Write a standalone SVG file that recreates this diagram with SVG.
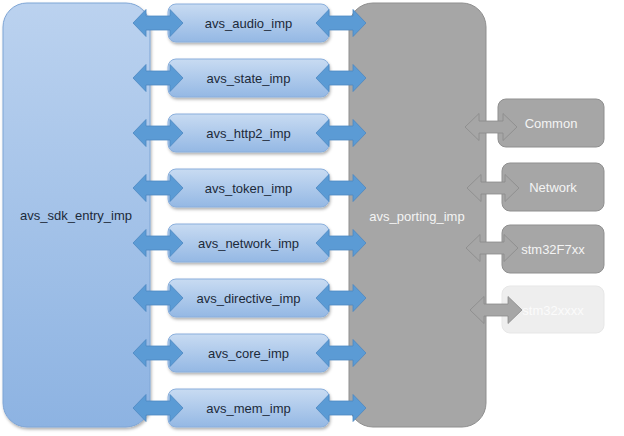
<svg xmlns="http://www.w3.org/2000/svg" xmlns:xlink="http://www.w3.org/1999/xlink" width="624" height="436" viewBox="0 0 624 436">
<defs>
<linearGradient id="gBig" x1="0" y1="0" x2="0" y2="1">
<stop offset="0" stop-color="#bbd2ef"/>
<stop offset="1" stop-color="#8db3e2"/>
</linearGradient>
<linearGradient id="gBox" x1="0" y1="0" x2="0" y2="1">
<stop offset="0" stop-color="#c8dbf2"/>
<stop offset="1" stop-color="#94b8e4"/>
</linearGradient>
<filter id="sh" x="-10%" y="-20%" width="120%" height="150%">
<feDropShadow dx="1" dy="2" stdDeviation="1.5" flood-color="#000" flood-opacity="0.3"/>
</filter>
<path id="blueArrow" d="M0 0 L13 -13.5 L13 -7 L37 -7 L37 -13.5 L50 0 L37 13.5 L37 7 L13 7 L13 13.5 Z"/>
<path id="grayArrow" d="M0 0 L14 -13.5 L14 -6 L38 -6 L38 -13.5 L52 0 L38 13.5 L38 6 L14 6 L14 13.5 Z"/>
</defs>
<style>
.t{font-family:"Liberation Sans",Arial,sans-serif;font-size:13px;text-anchor:middle}
.dark{fill:#1c2a3a}
.white{fill:#f4f4f4}
.faint{fill:#fbfbfb}
.mod{fill:url(#gBox);stroke:#8aafdc;stroke-width:1;filter:url(#sh)}
.port{fill:#a6a6a6;stroke:#8f8f8f;stroke-width:1}
.ba{fill:#5b9bd5;stroke:#4c88c2;stroke-width:0.8}
.ga{fill:#a6a6a6;stroke:#8a8a8a;stroke-width:0.8}
</style>
<rect width="624" height="436" fill="#ffffff"/>
<g id="avs_sdk_entry_imp">
<rect x="3" y="3" width="147" height="424" rx="24" fill="url(#gBig)" stroke="#7fa6d6" stroke-width="1" filter="url(#sh)"/>
<text class="t dark" x="76" y="220">avs_sdk_entry_imp</text>
</g>
<g id="avs_porting_imp">
<rect x="349" y="3" width="137" height="424" rx="24" class="port"/>
<text class="t white" x="417" y="221">avs_porting_imp</text>
</g>
<g id="avs_audio_imp"><rect class="mod" x="168" y="4" width="161" height="38" rx="8"/><text class="t dark" x="248.5" y="27.5">avs_audio_imp</text></g>
<g id="avs_state_imp"><rect class="mod" x="168" y="59" width="161" height="38" rx="8"/><text class="t dark" x="248.5" y="82.5">avs_state_imp</text></g>
<g id="avs_http2_imp"><rect class="mod" x="168" y="114" width="161" height="38" rx="8"/><text class="t dark" x="248.5" y="137.5">avs_http2_imp</text></g>
<g id="avs_token_imp"><rect class="mod" x="168" y="169" width="161" height="38" rx="8"/><text class="t dark" x="248.5" y="192.5">avs_token_imp</text></g>
<g id="avs_network_imp"><rect class="mod" x="168" y="224" width="161" height="38" rx="8"/><text class="t dark" x="248.5" y="247.5">avs_network_imp</text></g>
<g id="avs_directive_imp"><rect class="mod" x="168" y="279" width="161" height="38" rx="8"/><text class="t dark" x="248.5" y="302.5">avs_directive_imp</text></g>
<g id="avs_core_imp"><rect class="mod" x="168" y="334" width="161" height="38" rx="8"/><text class="t dark" x="248.5" y="357.5">avs_core_imp</text></g>
<g id="avs_mem_imp"><rect class="mod" x="168" y="389" width="161" height="38" rx="8"/><text class="t dark" x="248.5" y="412.5">avs_mem_imp</text></g>
<g id="Common"><rect class="port" x="498" y="99" width="106" height="48" rx="8"/><text class="t white" x="551" y="127.5">Common</text></g>
<g id="Network"><rect class="port" x="502" y="163" width="102" height="48" rx="8"/><text class="t white" x="553" y="191.5">Network</text></g>
<g id="stm32F7xx"><rect class="port" x="502" y="225" width="102" height="48" rx="8"/><text class="t white" x="553" y="253.5">stm32F7xx</text></g>
<g id="stm32xxxx"><rect x="502" y="286" width="102" height="47" rx="8" fill="#eeeeee" stroke="#e7e7e7" stroke-width="1"/><text class="t faint" x="553" y="315">stm32xxxx</text></g>
<g id="connectors">
<use xlink:href="#blueArrow" class="ba" transform="translate(133,23)"/>
<use xlink:href="#blueArrow" class="ba" transform="translate(133,78)"/>
<use xlink:href="#blueArrow" class="ba" transform="translate(133,133)"/>
<use xlink:href="#blueArrow" class="ba" transform="translate(133,188)"/>
<use xlink:href="#blueArrow" class="ba" transform="translate(133,243)"/>
<use xlink:href="#blueArrow" class="ba" transform="translate(133,298)"/>
<use xlink:href="#blueArrow" class="ba" transform="translate(133,353)"/>
<use xlink:href="#blueArrow" class="ba" transform="translate(133,408)"/>
<use xlink:href="#blueArrow" class="ba" transform="translate(316,23)"/>
<use xlink:href="#blueArrow" class="ba" transform="translate(316,78)"/>
<use xlink:href="#blueArrow" class="ba" transform="translate(316,133)"/>
<use xlink:href="#blueArrow" class="ba" transform="translate(316,188)"/>
<use xlink:href="#blueArrow" class="ba" transform="translate(316,243)"/>
<use xlink:href="#blueArrow" class="ba" transform="translate(316,298)"/>
<use xlink:href="#blueArrow" class="ba" transform="translate(316,353)"/>
<use xlink:href="#blueArrow" class="ba" transform="translate(316,408)"/>
<use xlink:href="#grayArrow" class="ga" transform="translate(465,127)"/>
<use xlink:href="#grayArrow" class="ga" transform="translate(467,188)"/>
<use xlink:href="#grayArrow" class="ga" transform="translate(466,248)"/>
<use xlink:href="#grayArrow" class="ga" transform="translate(470,310)"/>
</g>
</svg>
